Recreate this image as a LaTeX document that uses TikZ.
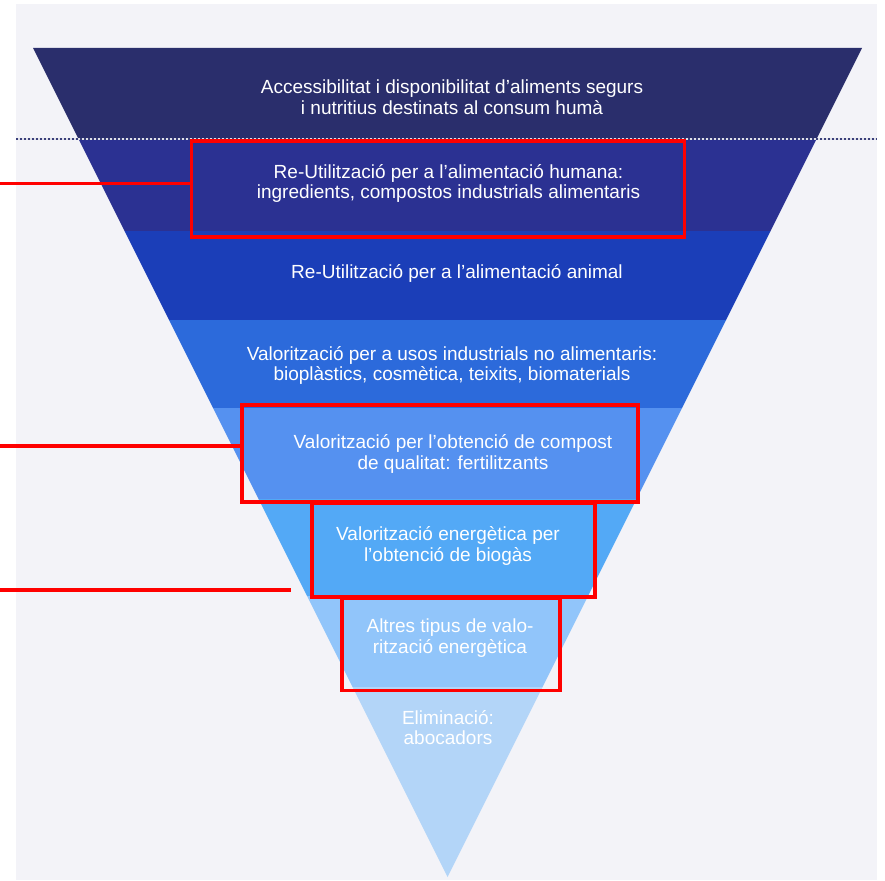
\documentclass[tikz,border=0pt]{standalone}
\usepackage{fontspec}
\setmainfont{Liberation Sans}
\definecolor{bgc}{HTML}{F3F3F8}
\definecolor{bandA}{HTML}{2A2E6C}
\definecolor{bandB}{HTML}{2B3192}
\definecolor{bandC}{HTML}{1B3EB8}
\definecolor{bandD}{HTML}{2C6ADB}
\definecolor{bandE}{HTML}{5591F0}
\definecolor{bandF}{HTML}{53A9F6}
\definecolor{bandG}{HTML}{91C5FA}
\definecolor{bandH}{HTML}{B3D5F8}
\definecolor{redc}{HTML}{FF0000}
\definecolor{dotc}{HTML}{3A3F7A}
\begin{document}
\begin{tikzpicture}[x=1pt,y=-1pt,
  lbl/.style={text=white, align=center, font=\fontsize{19}{20.8}\selectfont, inner sep=0pt},
  redbox/.style={draw=redc, line width=3.8pt, inner sep=0pt},
  redline/.style={draw=redc, line width=3.6pt}]
\useasboundingbox (0,0) rectangle (885,880);
\fill[white] (0,0) rectangle (885,880);
\fill[bgc] (16,4) rectangle (877,880);
% bands: xl(y)=33+(y-48)/2, xr(y)=862-(y-48)/2
\fill[bandA] (33,48) -- (862,48) -- (816.5,139) -- (78.5,139) -- cycle;
\fill[bandB] (78.5,139) -- (816.5,139) -- (770.5,231) -- (124.5,231) -- cycle;
\fill[bandC] (124.5,231) -- (770.5,231) -- (726,320) -- (169,320) -- cycle;
\fill[bandD] (169,320) -- (726,320) -- (682,408) -- (213,408) -- cycle;
\fill[bandE] (213,408) -- (682,408) -- (636.5,499) -- (258.5,499) -- cycle;
\fill[bandF] (258.5,499) -- (636.5,499) -- (588,596) -- (307,596) -- cycle;
\fill[bandG] (307,596) -- (588,596) -- (542.5,687) -- (352.5,687) -- cycle;
\fill[bandH] (352.5,687) -- (542.5,687) -- (447.5,877) -- cycle;
% dotted separator
\draw[white!85!bandA, line width=2.2pt] (16,139) -- (877,139);
\draw[dotc, line width=2.2pt, dash pattern=on 2pt off 2pt] (16,139) -- (877,139);
% texts
\node[lbl] (t1) at (452,97) {Accessibilitat i disponibilitat d’aliments segurs\\i nutritius destinats al consum humà};
\node[lbl] (t2) at (448.5,183.5) {Re-Utilització per a l’alimentació humana:\\ingredients, compostos industrials alimentaris};
\node[lbl] (t3) at (457,273) {Re-Utilització per a l’alimentació animal};
\node[lbl] (t4) at (452,365.5) {Valorització per a usos industrials no alimentaris:\\bioplàstics, cosmètica, teixits, biomaterials};
\node[lbl] (t5) at (453,454) {Valorització per l’obtenció de compost\\de qualitat: fertilitzants};
\node[lbl] (t6) at (448,546) {Valorització energètica per\\l’obtenció de biogàs};
\node[lbl] (t7) at (450,638) {Altres tipus de valo-\\rització energètica};
\node[lbl] (t8) at (448,727.5) {Eliminació:\\abocadors};
% red boxes
\node[redbox, minimum width=493pt, minimum height=96pt] (b1) at (438,189) {};
\node[redbox, minimum width=396pt, minimum height=97pt] (b2) at (440,453.5) {};
\node[redbox, minimum width=283pt, minimum height=94pt] (b3) at (453.5,550) {};
\node[redbox, minimum width=218pt, minimum height=92pt] (b4) at (451,644.5) {};
% connector lines
\coordinate (s1) at (0,183.5);
\coordinate (s2) at (0,446);
\coordinate (s3) at (0,590);
\coordinate (e3) at (291,590);
\draw[redline] (s1) -- (s1 -| b1.west);
\draw[redline] (s2) -- (s2 -| b2.west);
\draw[redline] (s3) -- (e3);
\end{tikzpicture}
\end{document}
